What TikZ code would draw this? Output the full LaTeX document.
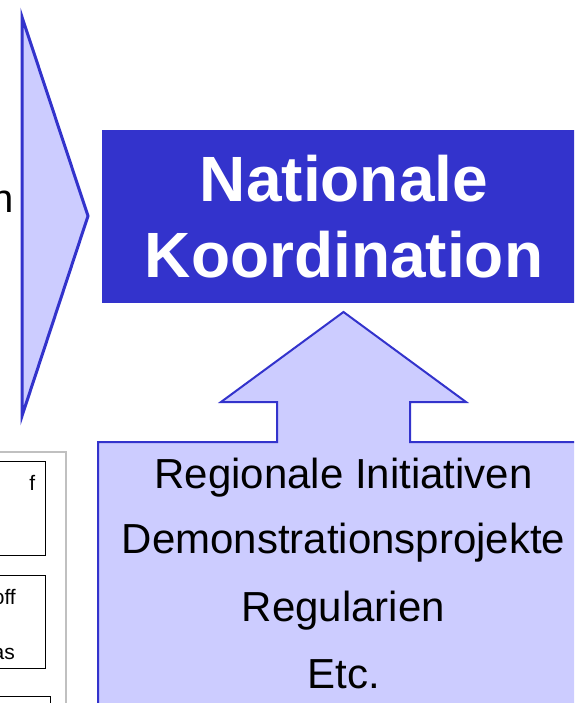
\documentclass[tikz,border=0pt]{standalone}
\usepackage{fontspec}
\setmainfont{Liberation Sans}
\definecolor{dblue}{RGB}{51,51,204}
\definecolor{lblue}{RGB}{204,204,255}
\definecolor{framegray}{RGB}{192,192,192}
\tikzset{
  arrowshape/.style={fill=lblue, draw=dblue, line join=miter},
  bigtext/.style={font=\fontsize{42}{50}\selectfont, anchor=base, inner sep=0pt},
  smallbox/.style={draw=black, line width=1pt},
  smalltext/.style={anchor=base east, inner sep=0pt, font=\fontsize{21}{25}\selectfont}
}
\begin{document}
\begin{tikzpicture}[x=1pt,y=-1pt]
\useasboundingbox (0,0) rectangle (574,703);
\clip (0,0) rectangle (574,703);
% left arrow (triangle)
\draw[arrowshape, line width=3pt] (22,17) -- (88,216) -- (22,416) -- cycle;
\node[anchor=base east, inner sep=0pt, font=\fontsize{40}{48}\selectfont] (lefttext) at (13.5,212) {n};
% national coordination box
\fill[dblue] (102,130) rectangle (586,303);
\node[text=white, align=center, inner sep=0pt, font=\fontsize{64}{76}\bfseries\selectfont] (natko) at (344,217) {Nationale\\Koordination};
% up arrow with box
\draw[arrowshape, line width=2pt] (98,710) -- (98,442) -- (277,442) -- (277,402) -- (221,402) -- (343.5,312) -- (466,402) -- (410,402) -- (410,442) -- (590,442) -- (590,710) -- cycle;
\node[bigtext] (l1) at (343.5,488) {Regionale Initiativen};
\node[bigtext] (l2) at (343.5,553) {Demonstrationsprojekte};
\node[bigtext] (l3) at (343.5,621) {Regularien};
\node[bigtext] (l4) at (343.5,688) {Etc.};
% bottom-left frame with boxes
\draw[framegray, line width=1.5pt] (-5,452) -- (66,452) -- (66,710);
\draw[smallbox] (-5,461) rectangle (45.5,555);
\draw[smallbox] (-5,575) rectangle (45.5,668);
\draw[smallbox] (-5,696) rectangle (50,710);
\node[smalltext] (t1) at (35.5,490) {f};
\node[smalltext] (t2) at (16,604) {off};
\node[smalltext] (t3) at (15,659) {as};
\end{tikzpicture}
\end{document}
